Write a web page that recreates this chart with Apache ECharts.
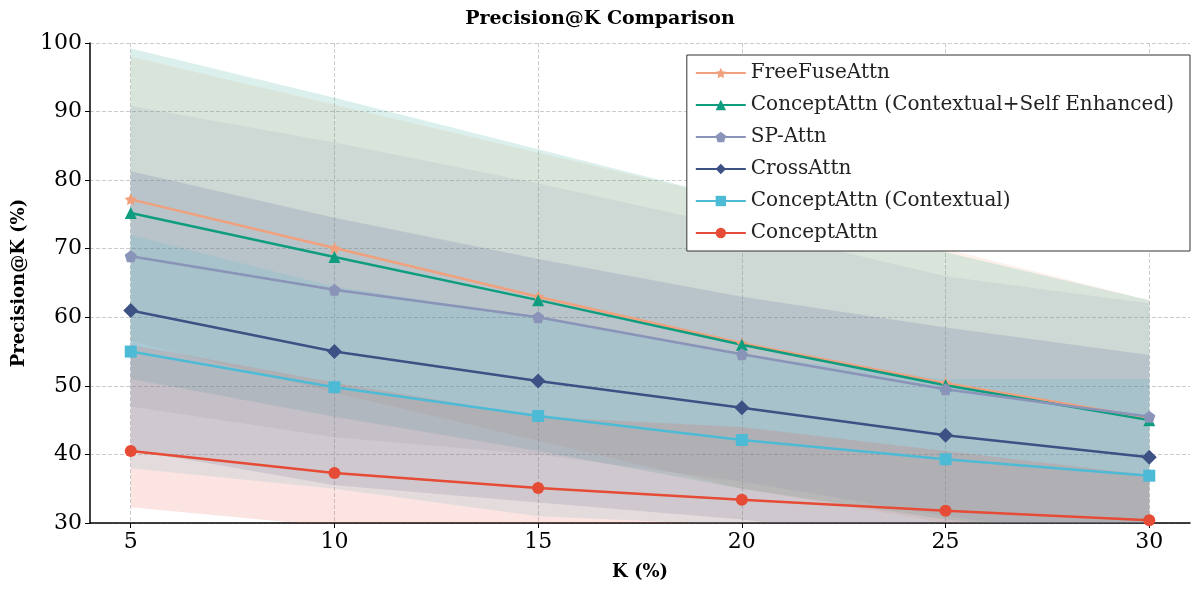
<!DOCTYPE html>
<html>
<head>
<meta charset="utf-8">
<script src="https://cdn.jsdelivr.net/npm/echarts@6/dist/echarts.min.js"></script>
<style>html,body{margin:0;background:#fff}#c{width:1200px;height:591px}</style>
</head>
<body>
<div id="c"></div>
<script>
var kValues = [5, 10, 15, 20, 25, 30];
var names = ["FreeFuseAttn", "ConceptAttn (Contextual+Self Enhanced)", "SP-Attn", "CrossAttn", "ConceptAttn (Contextual)", "ConceptAttn"];
var colors = ["#f0a07c", "#0f9d80", "#8a93b8", "#3d5185", "#4dbbd5", "#e64b35"];
var symbols = ["path://M0,-10L2.9,-4L9.5,-3.1L4.8,1.5L5.9,8.1L0,5L-5.9,8.1L-4.8,1.5L-9.5,-3.1L-2.9,-4Z", "triangle", "path://M0,-10L9.5,-3.1L5.9,8.1L-5.9,8.1L-9.5,-3.1Z", "diamond", "rect", "circle"];
var means = [
  [77.2, 70.1, 63.0, 56.2, 50.4, 45.3],
  [75.2, 68.8, 62.5, 56.0, 50.1, 45.0],
  [68.9, 64.0, 60.0, 54.6, 49.5, 45.5],
  [61.0, 55.0, 50.7, 46.8, 42.8, 39.6],
  [55.0, 49.8, 45.6, 42.1, 39.3, 36.9],
  [40.5, 37.3, 35.1, 33.4, 31.8, 30.4]
];
var upper = [
  [98.0, 91.0, 84.0, 77.0, 70.0, 62.5],
  [99.2, 92.0, 84.5, 77.0, 69.5, 62.5],
  [90.8, 85.5, 79.5, 73.0, 66.0, 62.0],
  [81.3, 74.5, 68.5, 63.0, 58.5, 54.5],
  [72.0, 64.5, 60.0, 54.5, 51.0, 51.0],
  [56.0, 50.5, 45.5, 44.0, 40.5, 37.0]
];
var lower = [
  [56.5, 49.0, 42.0, 35.0, 30.0, 28.0],
  [51.0, 45.5, 40.5, 35.0, 30.5, 27.5],
  [47.0, 42.5, 40.0, 36.0, 31.0, 27.0],
  [40.7, 35.5, 33.0, 30.5, 27.0, 24.7],
  [38.0, 35.0, 31.0, 29.7, 27.5, 22.0],
  [32.3, 29.5, 27.0, 23.0, 22.0, 24.0]
];

var series = [];
// shaded bands as polygons through the axis scales
series.push({
  type: "custom", silent: true, z: 1, clip: true,
  data: names.map((n, i) => i),
  renderItem: function (params, api) {
    var i = api.value(0);
    var pts = [];
    for (let j = 0; j < kValues.length; j++) pts.push(api.coord([kValues[j], upper[i][j]]));
    for (let j = kValues.length - 1; j >= 0; j--) pts.push(api.coord([kValues[j], lower[i][j]]));
    return {type: "polygon", shape: {points: pts}, style: {fill: colors[i], opacity: 0.15}};
  },
  encode: {x: -1, y: -1}
});
for (let i = 0; i < names.length; i++) {
  series.push({
    name: names[i], type: "line", z: 5, symbol: symbols[i], symbolSize: i == 3 ? 15 : 12,
    color: colors[i], lineStyle: {width: 2.5},
    data: kValues.map((k, j) => [k, means[i][j]])
  });
}

var chart = echarts.init(document.getElementById("c"));
chart.setOption({
  animation: false,
  textStyle: {fontFamily: "DejaVu Serif"},
  title: {text: "Precision@K Comparison", left: "center", top: 5,
    textStyle: {fontFamily: "DejaVu Serif", fontWeight: "bold", fontSize: 19, color: "#000"}},
  legend: {
    data: names, orient: "vertical", right: 10, top: 55, itemGap: 12,
    itemWidth: 50, itemHeight: 13, backgroundColor: "#fff", borderColor: "#333", borderWidth: 1,
    padding: [8, 16, 8, 8],
    textStyle: {fontFamily: "DejaVu Serif", fontSize: 20, color: "#222"}
  },
  grid: {left: 90, right: 10, top: 43, bottom: 68},
  xAxis: {
    type: "value", min: 4, max: 31,
    name: "K (%)", nameLocation: "middle", nameGap: 40,
    nameTextStyle: {fontWeight: "bold", fontSize: 18, color: "#000"},
    axisLine: {lineStyle: {color: "#000", width: 1.5}},
    axisTick: {customValues: kValues, lineStyle: {color: "#000"}},
    axisLabel: {customValues: kValues, fontSize: 22, color: "#000"},
    splitLine: {show: true, customValues: kValues, lineStyle: {type: "dashed", color: "#ccc"}}
  },
  yAxis: {
    type: "value", min: 30, max: 100, interval: 10,
    name: "Precision@K (%)", nameLocation: "middle", nameGap: 62,
    nameTextStyle: {fontWeight: "bold", fontSize: 18, color: "#000"},
    axisLine: {show: true, lineStyle: {color: "#000", width: 1.5}},
    axisTick: {show: true, lineStyle: {color: "#000"}},
    axisLabel: {fontSize: 22, color: "#000"},
    splitLine: {lineStyle: {type: "dashed", color: "#ccc"}}
  },
  series: series
});
</script>
</body>
</html>
